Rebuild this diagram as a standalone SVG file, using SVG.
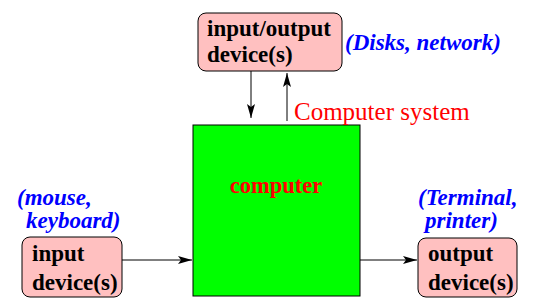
<svg xmlns="http://www.w3.org/2000/svg" width="544" height="305" viewBox="0 0 544 305">
<style>
.dev{fill:#ffc0c0;stroke:#000;stroke-width:1}
.conn{stroke:#000;stroke-width:1;fill:none;marker-end:url(#ah)}
</style>
<defs>
<marker id="ah" markerWidth="14" markerHeight="8" refX="14" refY="4" orient="auto" markerUnits="userSpaceOnUse">
<path d="M0,0 L14,4 L0,8 L3,4 Z" fill="#000"/>
</marker>
</defs>
<rect width="544" height="305" fill="#fff"/>
<g id="computer">
<rect x="193" y="125" width="167" height="171" fill="#00ff00" stroke="#000" stroke-width="1"/>
<text x="276" y="193" text-anchor="middle" font-family="'Liberation Serif', serif" font-weight="bold" font-size="22.5" fill="#ff0000">computer</text>
</g>
<g id="io">
<rect class="dev" x="198" y="13" width="144" height="58" rx="8"/>
<g font-family="'Liberation Serif', serif" font-weight="bold" font-size="23" fill="#000">
<text x="207" y="36">input/output</text>
<text x="207" y="62">device(s)</text>
</g>
<text x="345" y="50" font-family="'Liberation Serif', serif" font-weight="bold" font-style="italic" font-size="23" fill="#0000ff">(Disks, network)</text>
</g>
<g id="input">
<rect class="dev" x="22" y="237" width="100" height="60" rx="8"/>
<g font-family="'Liberation Serif', serif" font-weight="bold" font-size="23" fill="#000">
<text x="32" y="261">input</text>
<text x="32" y="290">device(s)</text>
</g>
<g font-family="'Liberation Serif', serif" font-weight="bold" font-style="italic" font-size="23" fill="#0000ff">
<text x="17" y="205">(mouse,</text>
<text x="26" y="228">keyboard)</text>
</g>
</g>
<g id="output">
<rect class="dev" x="418" y="238" width="99" height="59" rx="8"/>
<g font-family="'Liberation Serif', serif" font-weight="bold" font-size="23" fill="#000">
<text x="428" y="261">output</text>
<text x="428" y="290">device(s)</text>
</g>
<g font-family="'Liberation Serif', serif" font-weight="bold" font-style="italic" font-size="23" fill="#0000ff">
<text x="418" y="205">(Terminal,</text>
<text x="425" y="228">printer)</text>
</g>
</g>
<g id="system-label">
<text x="294" y="120" font-family="'Liberation Serif', serif" font-size="25" fill="#ff0000">Computer system</text>
</g>
<g id="connectors">
<line class="conn" x1="251" y1="71" x2="251" y2="118"/>
<line class="conn" x1="287" y1="121" x2="287" y2="73"/>
<line class="conn" x1="122" y1="260" x2="192" y2="260"/>
<line class="conn" x1="360" y1="260" x2="417" y2="260"/>
</g>
</svg>
